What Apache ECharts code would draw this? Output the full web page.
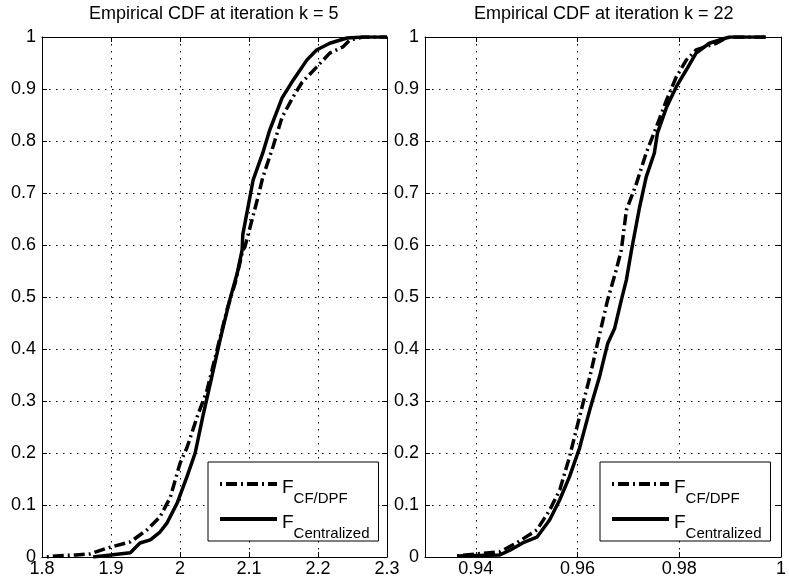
<!DOCTYPE html>
<html>
<head>
<meta charset="utf-8">
<script src="https://cdn.jsdelivr.net/npm/echarts@6/dist/echarts.min.js"></script>
<style>
html,body{margin:0;padding:0;background:#fff;}
#chart{width:789px;height:586px;}
</style>
</head>
<body>
<div id="chart"></div>
<script>
// ---- Data ----
var titles = ['Empirical CDF at iteration k = 5', 'Empirical CDF at iteration k = 22'];
var seriesNames = ['CF/DPF', 'Centralized'];

// Left panel (k = 5)
var leftCfX  = [1.807, 1.82, 1.85, 1.87, 1.894, 1.928, 1.952, 1.971, 1.986, 2.0, 2.010, 2.025, 2.039, 2.054, 2.068, 2.080, 2.091, 2.094, 2.112, 2.120, 2.135, 2.148, 2.164, 2.177, 2.198, 2.217, 2.236, 2.246, 2.265, 2.3];
var leftCfY  = [0.0, 0.002, 0.004, 0.006, 0.017, 0.029, 0.052, 0.077, 0.115, 0.18, 0.21, 0.27, 0.32, 0.40, 0.475, 0.527, 0.59, 0.596, 0.687, 0.73, 0.79, 0.846, 0.885, 0.913, 0.942, 0.969, 0.981, 0.994, 1.0, 1.0];
var leftCenX = [1.874, 1.928, 1.942, 1.957, 1.971, 1.981, 1.996, 2.010, 2.022, 2.033, 2.046, 2.058, 2.072, 2.083, 2.090, 2.091, 2.106, 2.120, 2.130, 2.148, 2.164, 2.184, 2.198, 2.217, 2.242, 2.265, 2.3];
var leftCenY = [0.0, 0.008, 0.027, 0.033, 0.048, 0.065, 0.104, 0.154, 0.20, 0.27, 0.346, 0.417, 0.494, 0.546, 0.59, 0.62, 0.725, 0.777, 0.821, 0.883, 0.917, 0.956, 0.975, 0.988, 0.998, 1.0, 1.0];

// Right panel (k = 22)
var rightCfX  = [0.9363, 0.9402, 0.9447, 0.948, 0.952, 0.9545, 0.9565, 0.9584, 0.9604, 0.9624, 0.9639, 0.9659, 0.9676, 0.9686, 0.9696, 0.9716, 0.9735, 0.9755, 0.9775, 0.9794, 0.9814, 0.9833, 0.9873, 0.9892, 0.9900, 0.997];
var rightCfY  = [0.002, 0.006, 0.01, 0.027, 0.052, 0.09, 0.129, 0.192, 0.27, 0.346, 0.41, 0.494, 0.552, 0.59, 0.667, 0.719, 0.777, 0.827, 0.879, 0.923, 0.956, 0.975, 0.988, 0.998, 1.0, 1.0];
var rightCenX = [0.9363, 0.9402, 0.9447, 0.9467, 0.9492, 0.952, 0.9545, 0.9565, 0.9584, 0.9604, 0.9624, 0.9643, 0.9659, 0.9673, 0.9686, 0.9696, 0.9706, 0.9722, 0.9735, 0.9751, 0.9757, 0.9775, 0.9794, 0.9814, 0.9833, 0.9859, 0.9892, 0.9900, 0.997];
var rightCenY = [0.002, 0.003, 0.004, 0.013, 0.027, 0.038, 0.071, 0.11, 0.154, 0.21, 0.283, 0.346, 0.41, 0.44, 0.494, 0.533, 0.59, 0.673, 0.731, 0.777, 0.815, 0.865, 0.904, 0.937, 0.969, 0.988, 0.998, 1.0, 1.0];

// Axis ticks
var leftXMin = 1.8, leftXMax = 2.3, leftXStep = 0.1;
var rightXMin = 0.93, rightXMax = 1.0;
var rightXTicks = [0.94, 0.96, 0.98, 1];
var yMin = 0, yMax = 1, yStep = 0.1;

// ---- Chart ----
function zip(xs, ys) { return xs.map(function (x, i) { return [x, ys[i]]; }); }

var FONT = '"Liberation Sans", Arial, Helvetica, sans-serif';
var grids = [
  { left: 42, right: 402, top: 37, bottom: 29 },
  { left: 425, right: 7, top: 37, bottom: 29 }
];
var dotted = { show: true, lineStyle: { color: '#000', width: 1, type: [1.5, 5.5] } };
var axisLine = { show: true, onZero: false, lineStyle: { color: '#000', width: 1 } };
var tick = { show: true, inside: true, length: 5, lineStyle: { color: '#000', width: 1 } };
var lbl = { color: '#000', fontSize: 18, fontFamily: FONT };

var xAxes = [
  { type: 'value', gridIndex: 0, position: 'bottom', min: leftXMin, max: leftXMax, interval: leftXStep,
    axisLine: axisLine, axisTick: tick, splitLine: dotted,
    axisLabel: Object.assign({ margin: 3, showMinLabel: true, showMaxLabel: true }, lbl) },
  { type: 'value', gridIndex: 0, position: 'top', min: leftXMin, max: leftXMax, interval: leftXStep,
    axisLine: axisLine, axisTick: tick, splitLine: { show: false }, axisLabel: { show: false } },
  { type: 'value', gridIndex: 1, position: 'bottom', min: rightXMin, max: rightXMax,
    axisLine: axisLine, axisTick: Object.assign({ customValues: rightXTicks }, tick), splitLine: dotted,
    axisLabel: Object.assign({ margin: 3, customValues: rightXTicks }, lbl) },
  { type: 'value', gridIndex: 1, position: 'top', min: rightXMin, max: rightXMax,
    axisLine: axisLine, axisTick: Object.assign({ customValues: rightXTicks }, tick), splitLine: { show: false },
    axisLabel: { show: false, customValues: rightXTicks } }
];
var yAxes = [];
[0, 1].forEach(function (g) {
  yAxes.push({ type: 'value', gridIndex: g, position: 'left', min: yMin, max: yMax, interval: yStep,
    axisLine: axisLine, axisTick: tick, splitLine: dotted,
    axisLabel: Object.assign({ margin: 6 }, lbl) });
  yAxes.push({ type: 'value', gridIndex: g, position: 'right', min: yMin, max: yMax, interval: yStep,
    axisLine: axisLine, axisTick: tick, splitLine: { show: false }, axisLabel: { show: false } });
});

var cfStyle = { color: '#000', width: 3.5, type: [2, 4, 11, 4] };
var cenStyle = { color: '#000', width: 3.5, type: 'solid' };
function line(name, data, xi, yi, style) {
  return { name: name, type: 'line', xAxisIndex: xi, yAxisIndex: yi, data: data,
    symbol: 'none', showSymbol: false, lineStyle: style, itemStyle: { color: '#000' },
    animation: false, clip: true };
}
var series = [
  line(seriesNames[0], zip(leftCfX, leftCfY), 0, 0, cfStyle),
  line(seriesNames[1], zip(leftCenX, leftCenY), 0, 0, cenStyle),
  line(seriesNames[0], zip(rightCfX, rightCfY), 2, 2, cfStyle),
  line(seriesNames[1], zip(rightCenX, rightCenY), 2, 2, cenStyle)
];

function legend(left) {
  return {
    orient: 'vertical', left: left, top: 462,
    data: seriesNames,
    itemWidth: 57, itemHeight: 14, itemGap: -9,
    padding: [0, 9, 0, 10],
    backgroundColor: '#fff', borderColor: '#000', borderWidth: 1, borderRadius: 0,
    selectedMode: false,
    itemStyle: { color: 'rgba(0,0,0,0)', borderColor: 'rgba(0,0,0,0)', borderWidth: 0, opacity: 0 },
    lineStyle: { width: 4, color: '#000' },
    formatter: function (n) { return '{f|F}{s|' + n + '}'; },
    textStyle: {
      color: '#000', fontFamily: FONT,
      rich: {
        f: { fontSize: 19, lineHeight: 22, fontFamily: FONT, color: '#000', padding: [7, 0, 0, 0], verticalAlign: 'middle' },
        s: { fontSize: 15, lineHeight: 15, fontFamily: FONT, color: '#000', padding: [29, 0, 0, 0], verticalAlign: 'middle' }
      }
    }
  };
}

var chart = echarts.init(document.getElementById('chart'), null, { renderer: 'canvas' });
chart.setOption({
  backgroundColor: '#fff',
  animation: false,
  title: [
    { text: titles[0], left: 89, top: 5, padding: 0, textStyle: { fontSize: 18, fontWeight: 'normal', color: '#000', fontFamily: FONT } },
    { text: titles[1], left: 474, top: 5, padding: 0, textStyle: { fontSize: 18, fontWeight: 'normal', color: '#000', fontFamily: FONT } }
  ],
  grid: grids,
  xAxis: xAxes,
  yAxis: yAxes,
  legend: [legend(208), legend(600)],
  series: series
});
</script>
</body>
</html>
